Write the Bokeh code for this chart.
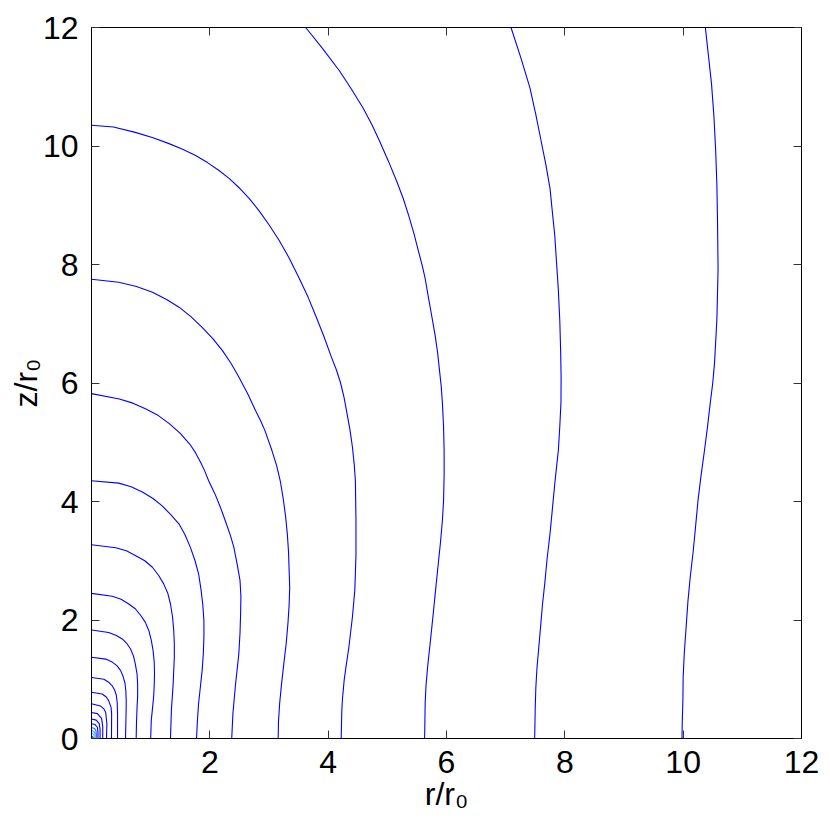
from bokeh.plotting import figure
from bokeh.models import LinearAxis, Range1d, FixedTicker
from bokeh.embed import file_html
from bokeh.resources import INLINE

# ---- data ----
x_ticks = [2, 4, 6, 8, 10, 12]
y_ticks = [0, 2, 4, 6, 8, 10, 12]

# contour lines (r/r0, z/r0), read point by point
c01_r = [10.375, 10.43, 10.48, 10.52, 10.55, 10.57, 10.58, 10.59, 10.58, 10.57, 10.55, 10.53, 10.50, 10.46, 10.41, 10.36, 10.30, 10.25, 10.21, 10.17, 10.12, 10.08, 10.05, 10.02, 10.00, 9.995, 9.985, 9.98]
c01_z = [12.0, 11.5, 11.04, 10.5, 9.91, 9.34, 8.77, 7.92, 7.5, 7.08, 6.7, 6.34, 6.0, 5.68, 5.25, 4.86, 4.42, 4.01, 3.58, 3.16, 2.73, 2.31, 1.88, 1.46, 1.04, 0.62, 0.3, 0.0]
c02_r = [7.09, 7.26, 7.41, 7.51, 7.60, 7.68, 7.75, 7.79, 7.83, 7.86, 7.89, 7.915, 7.93, 7.937, 7.935, 7.915, 7.89, 7.86, 7.83, 7.79, 7.75, 7.70, 7.66, 7.62, 7.59, 7.56, 7.53, 7.51, 7.50, 7.49]
c02_z = [12.0, 11.48, 10.98, 10.53, 10.08, 9.68, 9.28, 8.88, 8.49, 8.03, 7.58, 7.05, 6.51, 6.1, 5.68, 5.27, 4.86, 4.58, 4.30, 3.88, 3.46, 3.03, 2.61, 2.24, 1.88, 1.54, 1.20, 0.86, 0.53, 0.0]
c03_r = [3.62, 3.91, 4.19, 4.40, 4.59, 4.74, 4.87, 5.02, 5.16, 5.27, 5.36, 5.45, 5.53, 5.59, 5.64, 5.69, 5.74, 5.81, 5.85, 5.88, 5.91, 5.93, 5.95, 5.96, 5.96, 5.95, 5.93, 5.90, 5.86, 5.82, 5.78, 5.74, 5.71, 5.68, 5.655, 5.64, 5.63]
c03_z = [12.0, 11.64, 11.27, 10.95, 10.64, 10.36, 10.08, 9.74, 9.40, 9.11, 8.83, 8.52, 8.21, 7.98, 7.76, 7.47, 7.19, 6.79, 6.51, 6.23, 5.95, 5.68, 5.27, 4.86, 4.43, 4.01, 3.67, 3.33, 2.94, 2.55, 2.15, 1.76, 1.48, 1.20, 0.91, 0.62, 0.0]
c04_r = [0.0, 0.37, 0.74, 1.04, 1.31, 1.55, 1.76, 1.96, 2.15, 2.33, 2.49, 2.66, 2.83, 3.00, 3.17, 3.34, 3.50, 3.66, 3.80, 3.93, 4.05, 4.14, 4.21, 4.27, 4.32, 4.37, 4.41, 4.44, 4.46, 4.47, 4.47, 4.45, 4.41, 4.35, 4.30, 4.27, 4.24, 4.23, 4.22]
c04_z = [10.35, 10.32, 10.23, 10.14, 10.04, 9.94, 9.84, 9.72, 9.59, 9.45, 9.30, 9.12, 8.91, 8.67, 8.41, 8.11, 7.79, 7.45, 7.11, 6.78, 6.45, 6.22, 6.00, 5.75, 5.48, 5.20, 4.92, 4.63, 4.35, 3.68, 3.10, 2.50, 2.05, 1.54, 1.20, 0.98, 0.65, 0.45, 0.0]
c05_r = [0.0, 0.46, 0.76, 1.03, 1.27, 1.48, 1.68, 1.87, 2.05, 2.21, 2.36, 2.49, 2.64, 2.77, 2.86, 2.93, 3.05, 3.13, 3.19, 3.24, 3.28, 3.31, 3.33, 3.35, 3.34, 3.32, 3.29, 3.25, 3.21, 3.18, 3.16, 3.155]
c05_z = [7.75, 7.70, 7.63, 7.53, 7.41, 7.28, 7.12, 6.94, 6.75, 6.55, 6.33, 6.10, 5.82, 5.54, 5.36, 5.20, 4.86, 4.60, 4.35, 4.05, 3.75, 3.45, 3.15, 2.55, 2.25, 1.94, 1.60, 1.26, 0.90, 0.59, 0.28, 0.0]
c06_r = [0.0, 0.47, 0.70, 0.92, 1.13, 1.32, 1.50, 1.66, 1.76, 1.85, 1.92, 1.98, 2.09, 2.18, 2.27, 2.35, 2.405, 2.46, 2.51, 2.525, 2.52, 2.51, 2.49, 2.46, 2.43, 2.39, 2.37]
c06_z = [5.82, 5.73, 5.66, 5.56, 5.45, 5.31, 5.15, 4.97, 4.82, 4.65, 4.50, 4.35, 4.12, 3.90, 3.65, 3.42, 3.23, 2.95, 2.67, 2.40, 2.10, 1.78, 1.43, 1.15, 0.87, 0.42, 0.0]
c07_r = [0.0, 0.46, 0.67, 0.86, 1.04, 1.19, 1.34, 1.48, 1.58, 1.67, 1.75, 1.81, 1.85, 1.88, 1.90, 1.90, 1.89, 1.87, 1.84, 1.81, 1.79, 1.775]
c07_z = [4.35, 4.31, 4.25, 4.16, 4.05, 3.93, 3.78, 3.62, 3.44, 3.23, 3.00, 2.78, 2.52, 2.27, 1.99, 1.71, 1.43, 1.15, 0.87, 0.59, 0.30, 0.0]
c08_r = [0.0, 0.41, 0.59, 0.74, 0.90, 1.03, 1.13, 1.22, 1.29, 1.335, 1.37, 1.39, 1.40, 1.40, 1.39, 1.38, 1.35, 1.335]
c08_z = [3.27, 3.22, 3.17, 3.09, 3.00, 2.89, 2.76, 2.61, 2.45, 2.27, 2.05, 1.82, 1.60, 1.37, 1.15, 0.92, 0.47, 0.0]
c09_r = [0.0, 0.35, 0.50, 0.63, 0.74, 0.83, 0.91, 0.97, 1.01, 1.04, 1.06, 1.065, 1.06, 1.05, 1.03, 1.01, 1.00]
c09_z = [2.45, 2.40, 2.35, 2.27, 2.19, 2.08, 1.96, 1.82, 1.66, 1.49, 1.29, 1.09, 0.90, 0.70, 0.50, 0.30, 0.0]
c10_r = [0.0, 0.29, 0.42, 0.52, 0.60, 0.66, 0.71, 0.74, 0.77, 0.78, 0.78, 0.77, 0.76, 0.755]
c10_z = [1.83, 1.79, 1.74, 1.68, 1.60, 1.51, 1.39, 1.26, 1.09, 0.92, 0.72, 0.53, 0.25, 0.0]
c11_r = [0.0, 0.24, 0.35, 0.43, 0.49, 0.53, 0.565, 0.58, 0.587, 0.585, 0.575]
c11_z = [1.37, 1.34, 1.29, 1.23, 1.15, 1.06, 0.94, 0.81, 0.64, 0.47, 0.0]
c12_r = [0.0, 0.21, 0.29, 0.35, 0.39, 0.42, 0.435, 0.44, 0.44]
c12_z = [1.03, 1.00, 0.95, 0.89, 0.82, 0.73, 0.60, 0.42, 0.0]
c13_r = [0.0, 0.18, 0.25, 0.29, 0.33, 0.34, 0.338]
c13_z = [0.78, 0.75, 0.70, 0.64, 0.53, 0.42, 0.0]
c14_r = [0.0, 0.15, 0.21, 0.24, 0.26, 0.253]
c14_z = [0.585, 0.55, 0.50, 0.44, 0.25, 0.0]
c15_r = [0.0, 0.10, 0.17, 0.19, 0.19]
c15_z = [0.44, 0.42, 0.34, 0.20, 0.0]
c16_r = [0.0, 0.08, 0.13, 0.145, 0.145]
c16_z = [0.33, 0.31, 0.25, 0.15, 0.0]
c17_r = [0.0, 0.06, 0.10, 0.11, 0.11]
c17_z = [0.25, 0.235, 0.19, 0.10, 0.0]
c18_r = [0.0, 0.05, 0.075, 0.082, 0.082]
c18_z = [0.185, 0.17, 0.13, 0.07, 0.0]
c19_r = [0.0, 0.04, 0.06, 0.062]
c19_z = [0.14, 0.12, 0.08, 0.0]
c20_r = [0.0, 0.03, 0.045, 0.047]
c20_z = [0.10, 0.08, 0.04, 0.0]
c21_r = [0.0, 0.04]
c21_z = [0.05, 0.0]

contours_r = [c01_r, c02_r, c03_r, c04_r, c05_r, c06_r, c07_r, c08_r, c09_r, c10_r,
              c11_r, c12_r, c13_r, c14_r, c15_r, c16_r, c17_r, c18_r, c19_r, c20_r, c21_r]
contours_z = [c01_z, c02_z, c03_z, c04_z, c05_z, c06_z, c07_z, c08_z, c09_z, c10_z,
              c11_z, c12_z, c13_z, c14_z, c15_z, c16_z, c17_z, c18_z, c19_z, c20_z, c21_z]
line_colors = ["#0000ff"] * 17 + ["#2060ff", "#40a0ff", "#20e0ff", "#a01010"]

FONT = "Liberation Sans"
TICK_SIZE = "32px"

p = figure(width=822, height=824,
           x_range=Range1d(0, 12), y_range=Range1d(0, 12),
           output_backend="svg", toolbar_location=None,
           min_border_left=91, min_border_right=21,
           min_border_top=27, min_border_bottom=86)
p.xgrid.visible = False
p.ygrid.visible = False
p.outline_line_color = "black"
p.outline_line_width = 1
p.background_fill_color = "white"
p.border_fill_color = "white"

for rr, zz, col in zip(contours_r, contours_z, line_colors):
    p.line(rr, zz, line_color=col, line_width=1.1)

def style_axis(ax, ticks, show_labels):
    ax.ticker = FixedTicker(ticks=ticks)
    ax.major_tick_in = 8
    ax.major_tick_out = 0
    ax.minor_tick_line_color = None
    ax.axis_line_color = "black"
    ax.major_tick_line_color = "#333333"
    ax.major_tick_line_width = 1
    if show_labels:
        ax.major_label_text_font = FONT
        ax.major_label_text_font_size = TICK_SIZE
        ax.major_label_text_color = "black"
        ax.axis_label_text_font = FONT
        ax.axis_label_text_font_size = TICK_SIZE
        ax.axis_label_text_font_style = "normal"
        ax.axis_label_text_color = "black"
    else:
        ax.major_label_text_font_size = "0px"
        ax.major_label_text_color = None
        ax.major_label_overrides = {t: "" for t in ticks}
        ax.major_label_standoff = 0

xa = p.xaxis[0]
ya = p.yaxis[0]
style_axis(xa, x_ticks, True)
style_axis(ya, y_ticks, True)
xa.major_label_standoff = 12
ya.major_label_standoff = 13
xa.axis_label = "r/r\u2080"
ya.axis_label = "z/r\u2080"
xa.axis_label_standoff = 0
ya.axis_label_standoff = -4

top_ax = LinearAxis()
right_ax = LinearAxis()
style_axis(top_ax, x_ticks, False)
style_axis(right_ax, y_ticks, False)
p.add_layout(top_ax, "above")
p.add_layout(right_ax, "right")

open("out.html", "w").write(file_html(p, INLINE))
